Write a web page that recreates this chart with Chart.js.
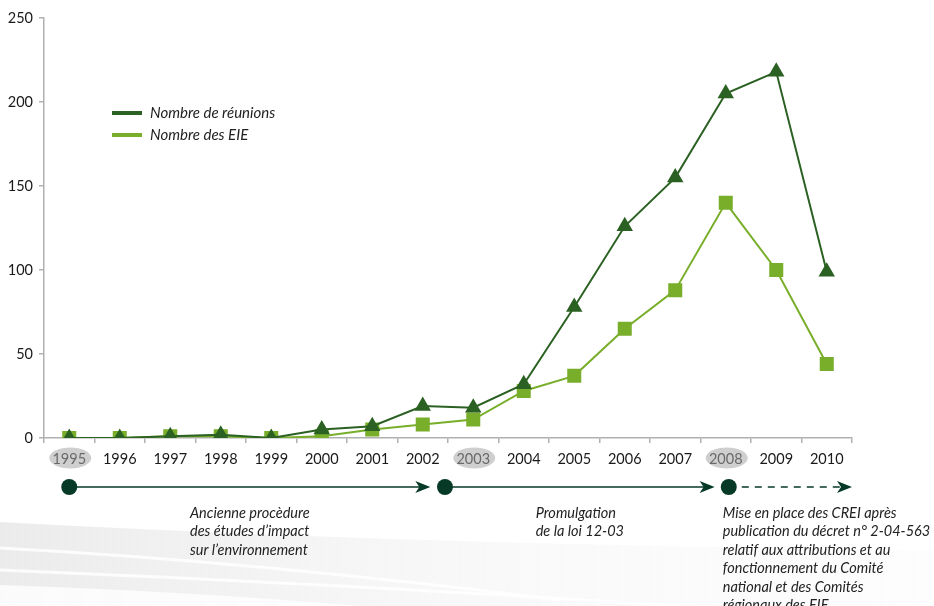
<!DOCTYPE html>
<html lang="fr">
<head>
<meta charset="utf-8">
<title>Réunions et EIE 1995-2010</title>
<script src="https://cdn.jsdelivr.net/npm/chart.js@4.4.1/dist/chart.umd.min.js"></script>
<style>
  html, body { margin: 0; padding: 0; background: #fff; }
  #wrap { width: 934px; height: 606px; }
</style>
</head>
<body>
<div id="wrap"><canvas id="cEie" width="934" height="606"></canvas></div>
<script>
// ── Données ──────────────────────────────────────────────────
const YEARS = ['1995', '1996', '1997', '1998', '1999', '2000', '2001', '2002',
  '2003', '2004', '2005', '2006', '2007', '2008', '2009', '2010'];
const REUNIONS = [0, 0, 1, 2, 0, 5, 7, 19, 18, 32, 78, 126, 155, 205, 218, 99];
const EIE = [0, 0, 1, 1, 0, 1, 5, 8, 11, 28, 37, 65, 88, 140, 100, 44];
const Y_TICKS = [0, 50, 100, 150, 200, 250];
const KEY_YEARS = ['1995', '2003', '2008'];

// Frise chronologique : début / fin en index de catégorie
const PHASES = [
  { from: 0, to: 7.15, dashed: false, align: 'center',
    text: ['Ancienne procèdure', 'des études d’impact', 'sur l’environnement'] },
  { from: 7.44, to: 12.78, dashed: false, align: 'center',
    text: ['Promulgation', 'de la loi 12-03'] },
  { from: 13.06, to: 15.5, dashed: true, align: 'left',
    text: ['Mise en place des CREI après', 'publication du décret n° 2-04-563',
      'relatif aux attributions et au', 'fonctionnement du Comité',
      'national et des Comités', 'régionaux des EIE'] }
];

const C_DARK = '#2b6122';
const C_LIGHT = '#78ae2a';
const C_TIME = '#063a26';
const C_AXIS = '#b0b0b0';
const FONT = 'Lato, "Open Sans", sans-serif';

// ── Décor : bandes grises en bas de page ─────────────────────
const swoosh = {
  id: 'swoosh',
  beforeDraw(chart) {
    const { ctx, width, height } = chart;
    ctx.save();
    const g = ctx.createLinearGradient(0, 0, width, 0);
    g.addColorStop(0, 'rgba(222,222,222,0.6)');
    g.addColorStop(0.55, 'rgba(238,238,238,0.35)');
    g.addColorStop(1, 'rgba(244,244,244,0.2)');
    ctx.fillStyle = g;
    ctx.beginPath();
    ctx.moveTo(0, 522);
    ctx.quadraticCurveTo(420, 545, width, 550);
    ctx.lineTo(width, height);
    ctx.lineTo(0, height);
    ctx.closePath();
    ctx.fill();
    // reflets blancs
    ctx.strokeStyle = 'rgba(255,255,255,0.85)';
    ctx.lineWidth = 3;
    [[548, 600], [570, 606]].forEach(([y0, y1], i) => {
      ctx.beginPath();
      ctx.moveTo(0, y0);
      ctx.quadraticCurveTo(260 + i * 80, y0 + 14, 560 + i * 120, y1);
      ctx.stroke();
    });
    ctx.fillStyle = 'rgba(255,255,255,0.8)';
    ctx.beginPath();
    ctx.moveTo(0, 585);
    ctx.quadraticCurveTo(200, 592, 360, 606);
    ctx.lineTo(0, 606);
    ctx.closePath();
    ctx.fill();
    ctx.restore();
  }
};

// ── Ovales gris derrière les années charnières ───────────────
const keyYears = {
  id: 'keyYears',
  beforeDraw(chart) {
    const { ctx, scales: { x } } = chart;
    ctx.save();
    ctx.fillStyle = '#cfcfcf';
    KEY_YEARS.forEach(y => {
      const px = x.getPixelForValue(YEARS.indexOf(y));
      ctx.beginPath();
      ctx.ellipse(px + 1, x.top + 20, 21, 10.5, 0, 0, Math.PI * 2);
      ctx.fill();
    });
    ctx.restore();
  }
};

// ── Légende dans la zone du graphique ────────────────────────
const innerLegend = {
  id: 'innerLegend',
  afterDraw(chart) {
    const { ctx, chartArea } = chart;
    const x0 = chartArea.left + 68, y0 = chartArea.top + 95;
    ctx.save();
    ctx.font = 'italic 15px ' + FONT;
    ctx.textBaseline = 'middle';
    chart.data.datasets.forEach((ds, i) => {
      const y = y0 + i * 22;
      ctx.fillStyle = ds.borderColor;
      ctx.fillRect(x0, y - 2, 30, 4);
      ctx.fillStyle = '#222';
      ctx.fillText(ds.label, x0 + 38, y);
    });
    ctx.restore();
  }
};

// ── Frise chronologique sous l'axe des années ────────────────
const timeline = {
  id: 'timeline',
  afterDraw(chart) {
    const { ctx, scales: { x } } = chart;
    const yLine = x.top + 49;
    ctx.save();
    PHASES.forEach(p => {
      const a = x.getPixelForValue(p.from);
      const b = x.getPixelForValue(p.to);
      ctx.strokeStyle = C_TIME;
      ctx.fillStyle = C_TIME;
      ctx.lineWidth = 1.5;
      ctx.setLineDash(p.dashed ? [7, 6] : []);
      ctx.beginPath();
      ctx.moveTo(a, yLine);
      ctx.lineTo(b - 10, yLine);
      ctx.stroke();
      ctx.setLineDash([]);
      // flèche
      ctx.beginPath();
      ctx.moveTo(b, yLine);
      ctx.lineTo(b - 15, yLine - 6);
      ctx.lineTo(b - 11, yLine);
      ctx.lineTo(b - 15, yLine + 6);
      ctx.closePath();
      ctx.fill();
      // jalon
      ctx.beginPath();
      ctx.arc(a, yLine, 8, 0, Math.PI * 2);
      ctx.fill();

      ctx.font = 'italic 14.5px ' + FONT;
      ctx.fillStyle = '#222';
      ctx.textBaseline = 'middle';
      const w = Math.max(...p.text.map(t => ctx.measureText(t).width));
      const left = p.align === 'center' ? (a + b) / 2 - w / 2 : a - 6;
      p.text.forEach((t, i) => ctx.fillText(t, left, yLine + 26 + i * 18.5));
    });
    ctx.restore();
  }
};

new Chart(document.getElementById('cEie').getContext('2d'), {
  type: 'line',
  data: {
    labels: YEARS,
    datasets: [
      {
        label: 'Nombre de réunions', data: REUNIONS,
        borderColor: C_DARK, backgroundColor: C_DARK, borderWidth: 2,
        pointStyle: 'triangle', pointRadius: 7.5, pointHoverRadius: 7.5, tension: 0
      },
      {
        label: 'Nombre des EIE', data: EIE,
        borderColor: C_LIGHT, backgroundColor: C_LIGHT, borderWidth: 2,
        pointStyle: 'rect', pointRadius: 8.5, pointHoverRadius: 8.5, tension: 0
      }
    ]
  },
  options: {
    responsive: false, animation: false,
    layout: { padding: { top: 18, right: 82, left: 0, bottom: 0 } },
    plugins: { legend: { display: false }, tooltip: { enabled: false } },
    scales: {
      x: {
        offset: true,
        afterFit: s => { s.height = 168; },
        border: { color: C_AXIS, width: 1.5 },
        grid: { drawOnChartArea: false, offset: true, tickLength: 5, color: C_AXIS, lineWidth: 1.5 },
        ticks: {
          padding: 8, maxRotation: 0, autoSkip: false,
          font: { family: FONT, size: 14.5 },
          color: c => KEY_YEARS.includes(YEARS[c.index]) ? '#6a6a6a' : '#1a1a1a'
        }
      },
      y: {
        min: 0, max: 250,
        afterFit: s => { s.width = 44; },
        afterBuildTicks: s => { s.ticks = Y_TICKS.map(v => ({ value: v })); },
        border: { color: C_AXIS, width: 1.5 },
        grid: { drawOnChartArea: false, tickLength: 5, color: C_AXIS, lineWidth: 1.5 },
        ticks: { padding: 6, font: { family: FONT, size: 14.5 }, color: '#1a1a1a' }
      }
    }
  },
  plugins: [swoosh, keyYears, innerLegend, timeline]
});
</script>
</body>
</html>
